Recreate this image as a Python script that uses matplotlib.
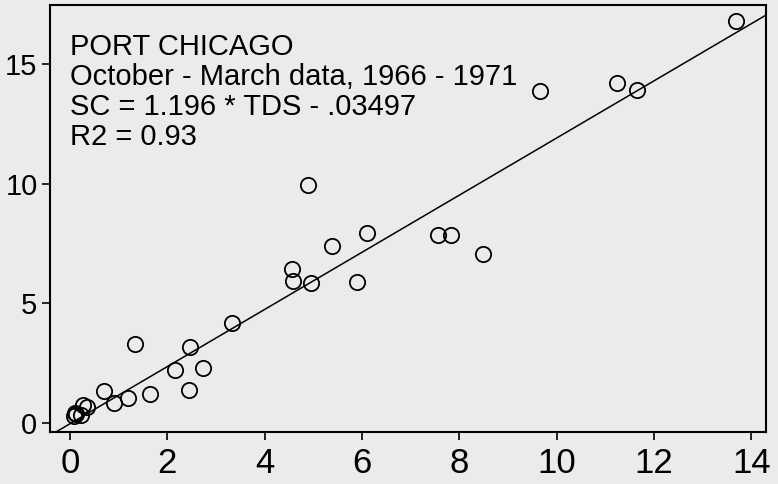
import matplotlib
matplotlib.use("Agg")
import numpy as np
import matplotlib.pyplot as plt

plt.rcParams['font.family'] = ['Liberation Sans', 'DejaVu Sans']

# TDS vs SC, Port Chicago
tds = [13.68, 11.24, 11.65, 9.66, 4.89, 6.10, 7.57, 7.82, 5.38, 8.49,
       4.56, 4.59, 4.95, 5.90, 3.33, 1.33, 2.46, 2.15, 2.74, 2.44,
       0.70, 1.64, 1.20, 0.90, 0.27, 0.36, 0.10, 0.08, 0.23, 0.13]
sc = [16.81, 14.23, 13.95, 13.89, 9.94, 7.95, 7.86, 7.86, 7.39, 7.05,
      6.44, 5.93, 5.84, 5.88, 4.19, 3.30, 3.19, 2.21, 2.28, 1.38,
      1.34, 1.21, 1.03, 0.85, 0.75, 0.68, 0.42, 0.30, 0.33, 0.36]

slope = 1.196
intercept = -0.03497

info = ["PORT CHICAGO",
        "October - March data, 1966 - 1971",
        "SC = 1.196 * TDS - .03497",
        "R2 = 0.93"]

bg = '#ebebeb'
fig = plt.figure(figsize=(7.78, 4.84), dpi=100, facecolor=bg)
ax = fig.add_axes([50/778, 1 - 432/484, 716/778, 427/484], facecolor=bg)

xlim = (-0.41, 14.3)
ylim = (-0.38, 17.49)

xx = np.array(xlim)
ax.plot(xx, slope * xx + intercept, color='black', lw=1.1)
ax.plot(tds, sc, 'o', mfc='none', mec='black', ms=11, mew=1.3)

ax.set_xlim(*xlim)
ax.set_ylim(*ylim)
ax.set_xticks(range(0, 15, 2))
ax.set_yticks([0, 5, 10, 15])

for s in ax.spines.values():
    s.set_linewidth(1.5)
ax.tick_params(axis='both', direction='out', length=6, width=1.2, color='black')
ax.tick_params(axis='x', labelsize=25, pad=5)
ax.tick_params(axis='y', labelsize=21, pad=3)

ax.text(0.028, 0.935, "\n".join(info), transform=ax.transAxes,
        fontsize=21, va='top', ha='left', linespacing=1.1)

fig.savefig("out.png", dpi=100, facecolor=bg)
